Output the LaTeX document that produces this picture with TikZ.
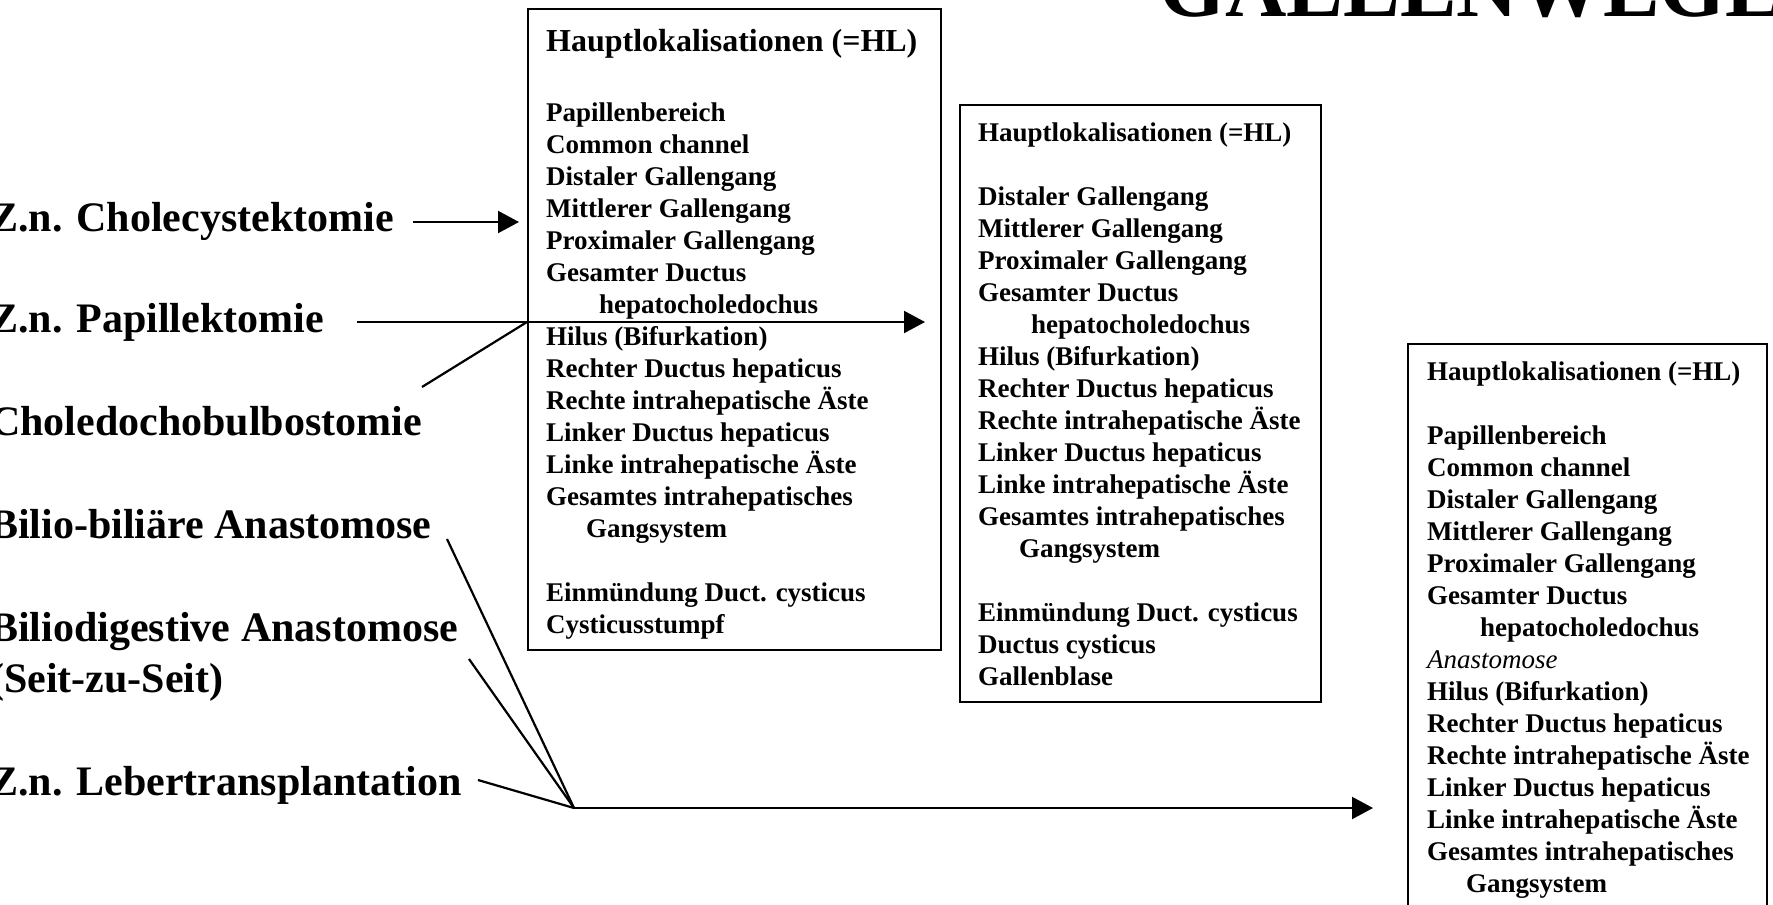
\documentclass[tikz,border=0pt]{standalone}
\usepackage{fontspec}
\setmainfont{Liberation Serif}
\usetikzlibrary{arrows.meta}
\begin{document}
\begin{tikzpicture}[x=1pt,y=-1pt,
  lab/.style={anchor=base west, inner sep=0pt, font=\fontsize{42}{48}\selectfont\bfseries},
  item/.style={anchor=base west, inner sep=0pt, font=\fontsize{27}{32}\selectfont\bfseries},
  hbox/.style={draw, line width=2pt, rectangle, anchor=north west, inner sep=0pt},
  conn/.style={line width=2.2pt},
  arr/.style={conn, -{Triangle[length=21pt,width=22pt]}},
]
\useasboundingbox (0,0) rectangle (1773,905);

% boxes
\node[hbox, minimum width=413pt, minimum height=641pt] (b1) at (527,8) {};
\node[hbox, minimum width=361pt, minimum height=597pt] (b2) at (959,104) {};
\node[hbox, minimum width=359pt, minimum height=640pt] (b3) at (1407,343) {};

% title
\node[anchor=base west, inner sep=0pt, font=\fontsize{85}{90}\selectfont\bfseries] (title) at (1159,16) {GALLENWEGE};

% box 1 text
\node[item, font=\fontsize{32}{36}\selectfont\bfseries] (h1) at (546,51) {Hauptlokalisationen (=HL)};
\foreach \t [count=\i from 0] in {Papillenbereich, Common channel, Distaler Gallengang, Mittlerer Gallengang, Proximaler Gallengang, Gesamter Ductus, \hspace*{53pt}hepatocholedochus, Hilus (Bifurkation), Rechter Ductus hepaticus, Rechte intrahepatische Äste, Linker Ductus hepaticus, Linke intrahepatische Äste, Gesamtes intrahepatisches, \hspace*{40pt}Gangsystem, {}, Einmündung Duct. cysticus, Cysticusstumpf}
  \node[item] (t1-\i) at (546,{121+32*\i}) {\t};

% box 2 text
\node[item] (h2) at (978,141) {Hauptlokalisationen (=HL)};
\foreach \t [count=\i from 0] in {Distaler Gallengang, Mittlerer Gallengang, Proximaler Gallengang, Gesamter Ductus, \hspace*{53pt}hepatocholedochus, Hilus (Bifurkation), Rechter Ductus hepaticus, Rechte intrahepatische Äste, Linker Ductus hepaticus, Linke intrahepatische Äste, Gesamtes intrahepatisches, \hspace*{41pt}Gangsystem, {}, Einmündung Duct. cysticus, Ductus cysticus, Gallenblase}
  \node[item] (t2-\i) at (978,{205+32*\i}) {\t};

% box 3 text
\node[item] (h3) at (1427,380) {Hauptlokalisationen (=HL)};
\foreach \t [count=\i from 0] in {Papillenbereich, Common channel, Distaler Gallengang, Mittlerer Gallengang, Proximaler Gallengang, Gesamter Ductus, \hspace*{53pt}hepatocholedochus, \textmd{\textit{Anastomose}}, Hilus (Bifurkation), Rechter Ductus hepaticus, Rechte intrahepatische Äste, Linker Ductus hepaticus, Linke intrahepatische Äste, Gesamtes intrahepatisches, \hspace*{39pt}Gangsystem}
  \node[item] (t3-\i) at (1427,{444+32*\i}) {\t};

% left labels
\node[lab] (l1) at (-10,231) {Z.n. Cholecystektomie};
\node[lab] (l2) at (-10,332) {Z.n. Papillektomie};
\node[lab] (l3) at (-10,435) {Choledochobulbostomie};
\node[lab] (l4) at (-10,538) {Bilio-biliäre Anastomose};
\node[lab] (l5) at (-10,641) {Biliodigestive Anastomose};
\node[lab] (l5b) at (-10,692) {(Seit-zu-Seit)};
\node[lab] (l6) at (-10,795) {Z.n. Lebertransplantation};

% connector points
\coordinate (c1) at (413,222);
\coordinate (c2) at (357,322);
\coordinate (c3) at (422,387);
\coordinate (c4) at (447,539);
\coordinate (c5) at (469,659);
\coordinate (c6) at (478,780);
\coordinate (hub) at (574,808);
\coordinate (j1) at (b1.west |- c2);

% connectors
\draw[arr, shorten >=8pt] (c1) -- (b1.west |- c1);
\draw[arr, shorten >=34pt] (c2) -- (b2.west |- c2);
\draw[conn] (c3) -- (j1);
\draw[conn] (c4) -- (hub);
\draw[conn] (c5) -- (hub);
\draw[conn] (c6) -- (hub);
\draw[arr, shorten >=34pt] (hub) -- (b3.west |- hub);
\end{tikzpicture}
\end{document}
